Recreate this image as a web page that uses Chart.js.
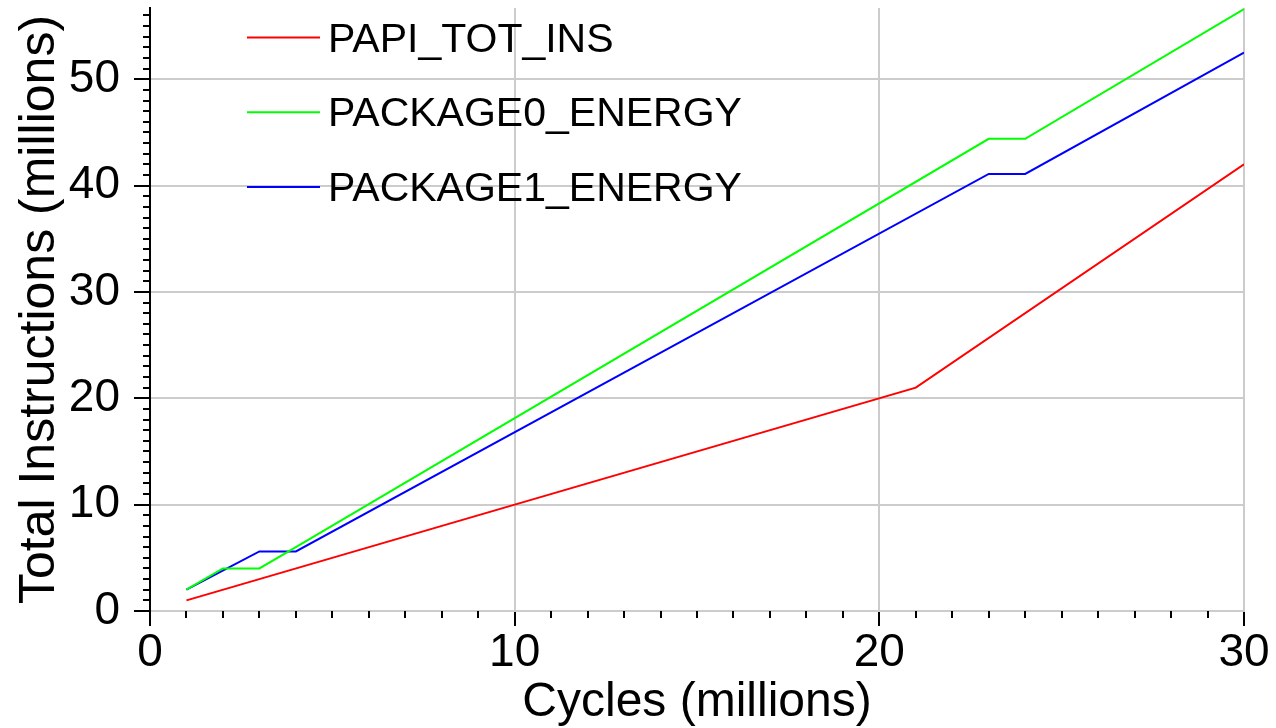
<!DOCTYPE html>
<html>
<head>
<meta charset="utf-8">
<script src="https://cdn.jsdelivr.net/npm/chart.js@4"></script>
<style>
  html, body { margin: 0; padding: 0; background: #ffffff; }
  #wrap { width: 1276px; height: 728px; }
</style>
</head>
<body>
<div id="wrap"><canvas id="c" width="1276" height="728"></canvas></div>
<script>
// ---- data ----
const seriesLabels = ['PAPI_TOT_INS', 'PACKAGE0_ENERGY', 'PACKAGE1_ENERGY'];
const seriesColors = ['#ff0000', '#00ff00', '#0000ff'];

const cyclesTotIns = [1, 21, 30];
const papiTotIns   = [1, 21, 42];

const cyclesPkg0 = [1, 2, 3, 4, 23, 24, 30];
const package0   = [2, 4, 4, 6, 44.4, 44.4, 56.6];

const cyclesPkg1 = [1, 3, 4, 23, 24, 30];
const package1   = [2, 5.6, 5.6, 41.1, 41.1, 52.5];

const xTickValues = [0, 10, 20, 30];
const yTickValues = [0, 10, 20, 30, 40, 50];
const xMin = 0, xMax = 30;
const yMin = 0, yMax = 56.7;

function pts(xs, ys) { return xs.map((x, i) => ({ x: x, y: ys[i] })); }

const FONT = "'Liberation Sans', Arial, Helvetica, sans-serif";

// minor ticks every 1 unit, drawn outside the axes through the scales
const minorTicks = {
  id: 'minorTicks',
  afterDraw(chart) {
    const ctx = chart.ctx;
    const xs = chart.scales.x, ys = chart.scales.y;
    ctx.save();
    ctx.strokeStyle = '#000000';
    ctx.lineWidth = 2;
    ctx.beginPath();
    for (let v = Math.ceil(ys.min); v <= ys.max; v++) {
      if (v % 10 === 0) continue;
      const py = Math.round(ys.getPixelForValue(v));
      ctx.moveTo(xs.left - 7, py);
      ctx.lineTo(xs.left, py);
    }
    for (let v = Math.ceil(xs.min); v <= xs.max; v++) {
      if (v % 10 === 0) continue;
      const px = Math.round(xs.getPixelForValue(v));
      ctx.moveTo(px, ys.bottom);
      ctx.lineTo(px, ys.bottom + 7);
    }
    ctx.stroke();
    ctx.restore();
  }
};

// legend drawn inside the plot area, top-left
const insideLegend = {
  id: 'insideLegend',
  afterDraw(chart) {
    const ctx = chart.ctx;
    ctx.save();
    chart.data.datasets.forEach((ds, i) => {
      const ly = 37.5 + i * 74.7;
      ctx.strokeStyle = ds.borderColor;
      ctx.lineWidth = 2;
      ctx.beginPath();
      ctx.moveTo(247, ly);
      ctx.lineTo(320, ly);
      ctx.stroke();
      ctx.fillStyle = '#000000';
      ctx.font = "41px " + FONT;
      ctx.textBaseline = 'alphabetic';
      ctx.textAlign = 'left';
      ctx.fillText(ds.label, 328, 51.5 + i * 74.7);
    });
    ctx.restore();
  }
};

const datasets = [
  { label: seriesLabels[0], data: pts(cyclesTotIns, papiTotIns), borderColor: seriesColors[0] },
  { label: seriesLabels[1], data: pts(cyclesPkg0, package0), borderColor: seriesColors[1] },
  { label: seriesLabels[2], data: pts(cyclesPkg1, package1), borderColor: seriesColors[2] }
].map(d => Object.assign(d, {
  showLine: true, pointRadius: 0, pointHoverRadius: 0, borderWidth: 2,
  backgroundColor: d.borderColor, tension: 0, fill: false
}));

new Chart(document.getElementById('c'), {
  type: 'scatter',
  data: { datasets: datasets },
  plugins: [minorTicks, insideLegend],
  options: {
    responsive: false,
    animation: false,
    events: [],
    layout: { padding: { top: 8, right: 32, bottom: 0, left: 0 } },
    plugins: { legend: { display: false }, tooltip: { enabled: false }, title: { display: false } },
    scales: {
      x: {
        type: 'linear', min: xMin, max: xMax,
        afterBuildTicks: s => { s.ticks = xTickValues.map(v => ({ value: v })); },
        afterFit: s => { s.height = 117; s.paddingLeft = 0; s.paddingRight = 0; },
        grid: { color: '#cccccc', lineWidth: 2, tickColor: '#000000', tickWidth: 2, tickLength: 15, drawTicks: true },
        border: { display: true, color: '#cccccc', width: 2 },
        ticks: { color: '#000000', font: { family: FONT, size: 46 }, padding: 0, maxRotation: 0, autoSkip: false },
        title: { display: true, text: 'Cycles (millions)', color: '#000000', font: { family: FONT, size: 48, lineHeight: 1.05 }, padding: { top: 0, bottom: 0 } }
      },
      y: {
        type: 'linear', min: yMin, max: yMax,
        afterBuildTicks: s => { s.ticks = yTickValues.map(v => ({ value: v })); },
        afterFit: s => { s.width = 150; s.paddingTop = 0; s.paddingBottom = 0; },
        grid: { color: '#cccccc', lineWidth: 2, tickColor: '#000000', tickWidth: 2, tickLength: 16, drawTicks: true },
        border: { display: true, color: '#000000', width: 2 },
        ticks: { color: '#000000', font: { family: FONT, size: 46 }, padding: 14, autoSkip: false },
        title: { display: true, text: 'Total Instructions (millions)', color: '#000000', font: { family: FONT, size: 50, lineHeight: 1.2 }, padding: { top: 10, bottom: 0 } }
      }
    }
  }
});
</script>
</body>
</html>
